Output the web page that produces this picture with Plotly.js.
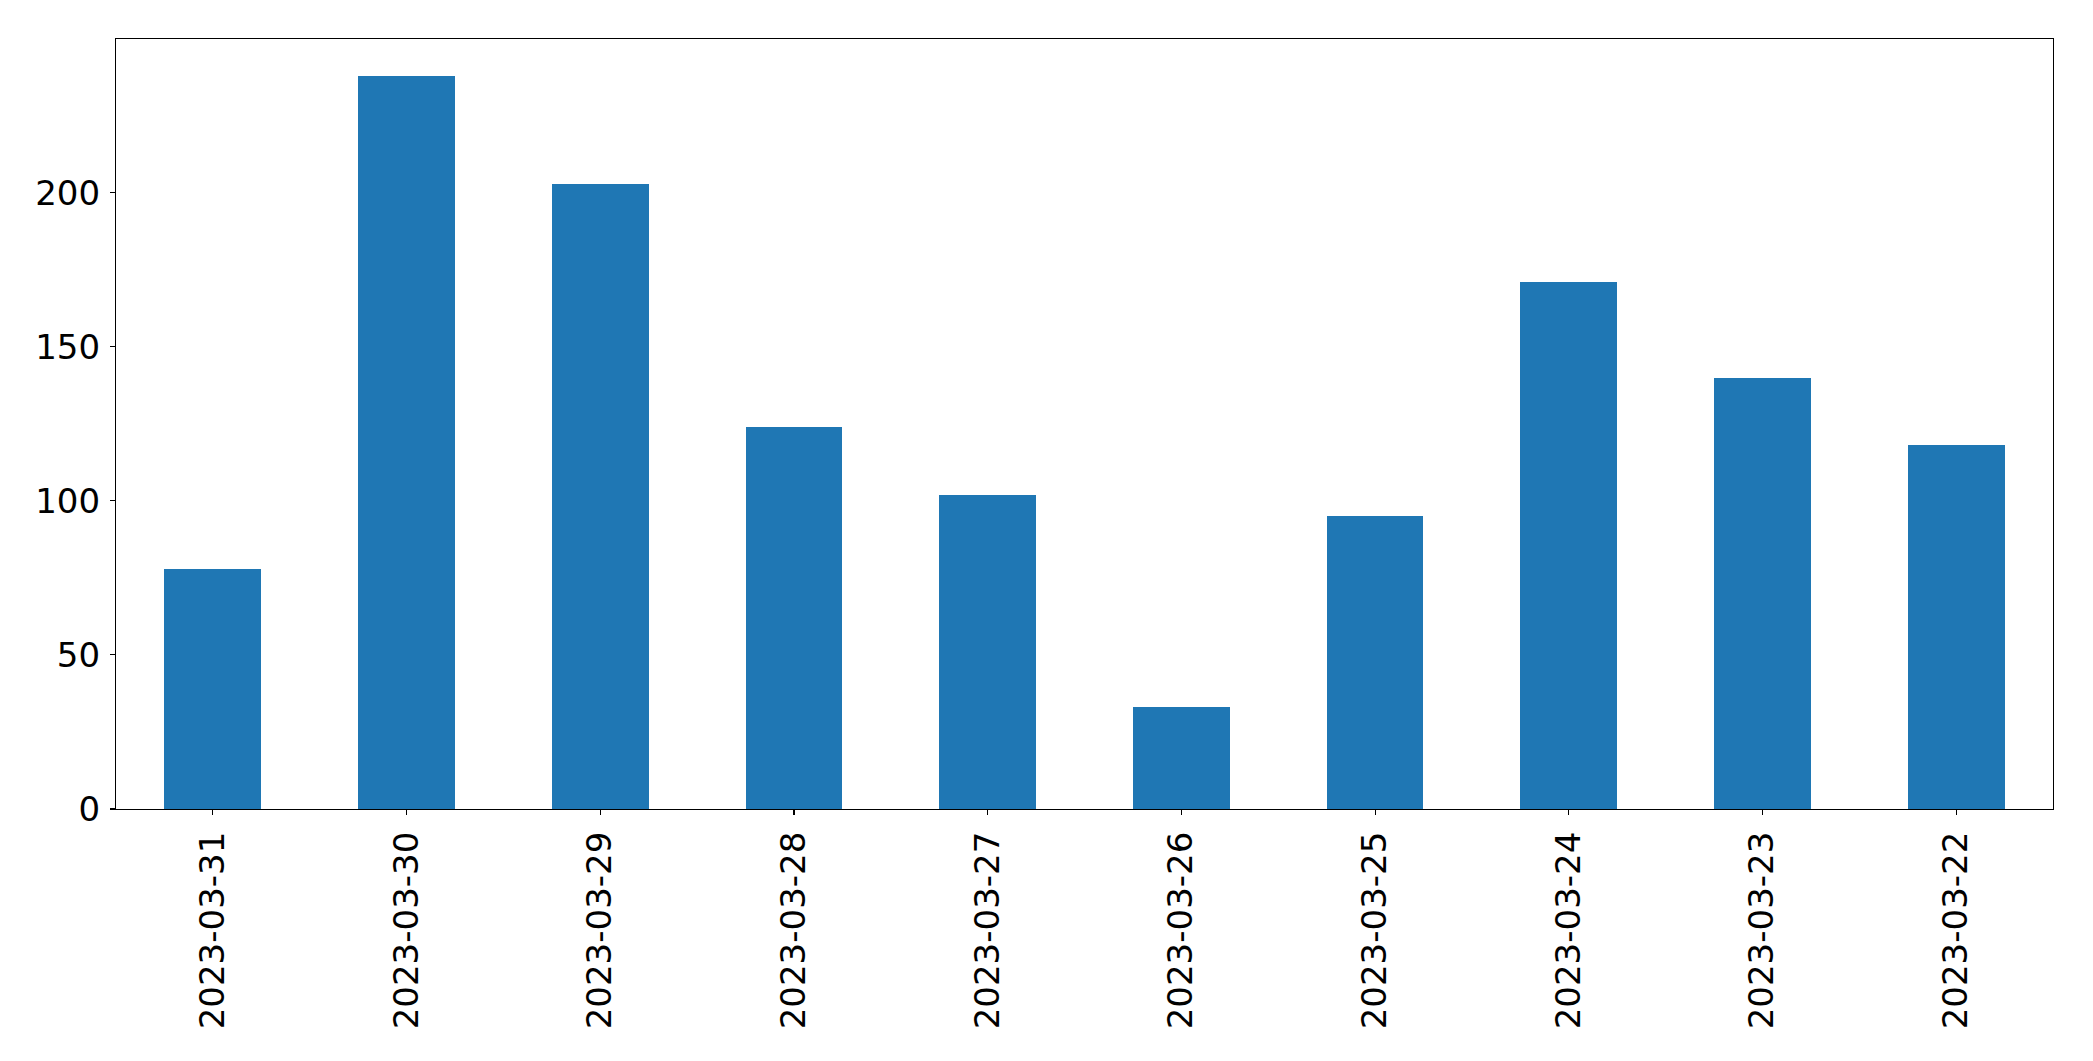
<!DOCTYPE html>
<html>
<head>
<meta charset="utf-8">
<script src="https://cdn.plot.ly/plotly-3.0.1.min.js"></script>
<style>html,body{margin:0;padding:0;background:#fff;}#chart{width:2093px;height:1061px;}</style>
</head>
<body>
<div id="chart"></div>
<script>
const dates = ["2023-03-31","2023-03-30","2023-03-29","2023-03-28","2023-03-27","2023-03-26","2023-03-25","2023-03-24","2023-03-23","2023-03-22"];
const counts = [78, 238, 203, 124, 102, 33, 95, 171, 140, 118];
const yTicks = [0, 50, 100, 150, 200];

const trace = {
  type: 'bar',
  x: dates,
  y: counts,
  width: 0.5,
  marker: {color: '#1f77b4', line: {width: 0}},
  hoverinfo: 'x+y'
};

const maxVal = Math.max(...counts);
const layout = {
  width: 2093,
  height: 1061,
  margin: {l: 116.3, r: 39.7, t: 39.3, b: 251.7, pad: 0},
  paper_bgcolor: '#ffffff',
  plot_bgcolor: '#ffffff',
  showlegend: false,
  bargap: 0,
  font: {family: 'DejaVu Sans', size: 34, color: '#000000'},
  xaxis: {
    type: 'category',
    range: [-0.5, dates.length - 0.5],
    tickangle: -90,
    ticks: 'outside',
    ticklen: 5,
    tickwidth: 1.1,
    tickcolor: '#000',
    showline: true,
    linecolor: '#000',
    linewidth: 1.1,
    mirror: true,
    showgrid: false,
    zeroline: false,
    ticklabelstandoff: 3,
    tickfont: {family: 'DejaVu Sans', size: 34, color: '#000'}
  },
  yaxis: {
    range: [0, maxVal * 1.05],
    tickmode: 'array',
    tickvals: yTicks,
    ticktext: yTicks.map(String),
    ticks: 'outside',
    ticklen: 5,
    tickwidth: 1.1,
    tickcolor: '#000',
    showline: true,
    linecolor: '#000',
    linewidth: 1.1,
    mirror: true,
    showgrid: false,
    zeroline: false,
    ticklabelstandoff: 3,
    tickfont: {family: 'DejaVu Sans', size: 34, color: '#000'}
  }
};

Plotly.newPlot('chart', [trace], layout, {displayModeBar: false, staticPlot: true});
</script>
</body>
</html>
